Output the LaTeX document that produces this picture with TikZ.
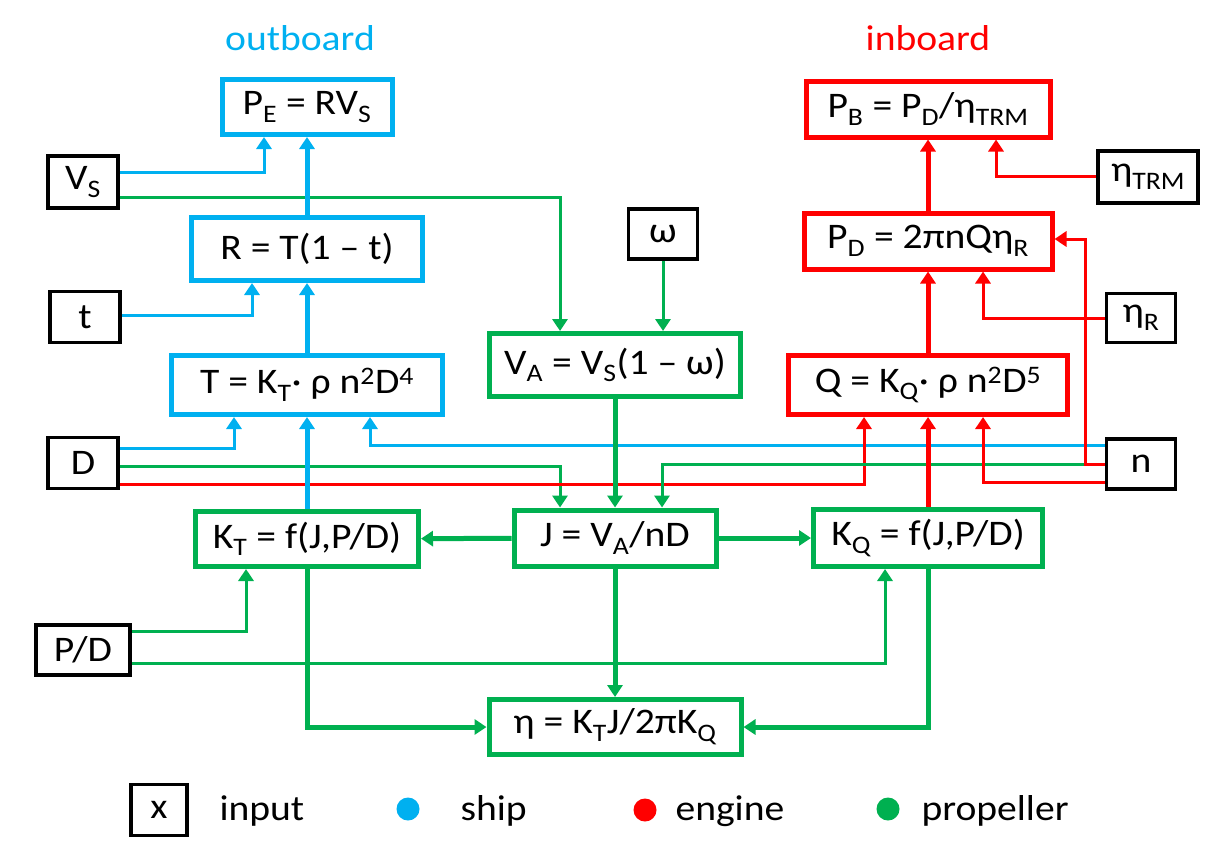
\documentclass[tikz,border=0pt]{standalone}
\usepackage{fontspec}
\setmainfont{Carlito}[FakeStretch=1.1]
\usepackage{tikz}
\usetikzlibrary{arrows.meta}
\usetikzlibrary{calc}

\definecolor{shipblue}{RGB}{0,176,240}
\definecolor{engred}{RGB}{255,0,0}
\definecolor{propgreen}{RGB}{0,176,80}
\newcommand{\sbs}[1]{\textsubscript{#1}}
\newcommand{\sps}[1]{\textsuperscript{#1}}

\begin{document}
\begin{tikzpicture}
	[
	x=1pt, y=-1pt,
  > = {Triangle[length=12pt,width=15pt]},
  every node/.style = {font=\fontsize{36}{40}\selectfont},
  wh/.style 2 args = {minimum width=#1, minimum height=#2},
  inbox/.style = {draw=black, line width=3.5pt, inner sep=0pt},
  shipbox/.style = {draw=shipblue, line width=5pt, inner sep=0pt},
  engbox/.style = {draw=engred, line width=5pt, inner sep=0pt},
  propbox/.style = {draw=propgreen, line width=5pt, inner sep=0pt},
  bthin/.style = {->, shipblue, line width=3pt},
  bthick/.style = {->, shipblue, line width=5pt},
  rthin/.style = {->, engred, line width=3pt},
  rthick/.style = {->, engred, line width=5pt},
  gthin/.style = {->, propgreen, line width=3pt},
  gthick/.style = {->, propgreen, line width=5pt},
  dot/.style = {circle, inner sep=0pt, minimum size=23pt}
  ]
	\useasboundingbox (0,0) rectangle (1223,854);

	\node[text=shipblue] (outb) at (300,38) {outboard};
	\node[text=engred] (inb) at (928,38) {inboard};

	% inputs
	\node[inbox, wh={70pt}{52pt}] (VS) at (83,182) {V\sbs{S}};
	\node[inbox, wh={70pt}{51pt}] (t) at (85,317) {t};
	\node[inbox, wh={70pt}{51pt}] (D) at (83,463) {D};
	\node[inbox, wh={94pt}{50pt}] (PoD) at (83,650) {P/D};
	\node[inbox, wh={69pt}{50pt}] (om) at (663,234) {ω};
	\node[inbox, wh={100pt}{52pt}] (nTRM) at (1148,177) {η\sbs{TRM}};
	\node[inbox, wh={69pt}{49pt}] (nR) at (1141,318) {η\sbs{R}};
	\node[inbox, wh={69pt}{50pt}] (n) at (1141,464) {n};

	% ship
	\node[shipbox, wh={170pt}{55pt}] (PE) at (307,107) {P\sbs{E} = RV\sbs{S}};
	\node[shipbox, wh={231pt}{63pt}] (R) at (307,249) {R = T(1 – t)};
	\node[shipbox, wh={271pt}{59pt}] (T) at (307,385) {T = K\sbs{T}· ρ n\sps{2}D\sps{4}};

	% engine
	\node[engbox, wh={244pt}{56pt}] (PB) at (928,109) {P\sbs{B} = P\sbs{D}/η\sbs{TRM}};
	\node[engbox, wh={248pt}{56pt}] (PD) at (928,241) {P\sbs{D} = 2πnQη\sbs{R}};
	\node[engbox, wh={279pt}{59pt}] (Q) at (928,385) {Q = K\sbs{Q}· ρ n\sps{2}D\sps{5}};

	% propeller
	\node[propbox, wh={251pt}{63pt}] (VA) at (615,365) {V\sbs{A} = V\sbs{S}(1 – ω)};
	\node[propbox, wh={223pt}{55pt}] (KT) at (307,539) {K\sbs{T} = f(J,P/D)};
	\node[propbox, wh={202pt}{56pt}] (J) at (615,538) {J = V\sbs{A}/nD};
	\node[propbox, wh={229pt}{57pt}] (KQ) at (928,538) {K\sbs{Q} = f(J,P/D)};
	\node[propbox, wh={252pt}{55pt}] (eta) at (615,727) {η = K\sbs{T}J/2πK\sbs{Q}};

	\draw[bthin] ([yshift=10pt]VS.east) -| ([xshift=-43pt]PE.south);
	\draw[gthin] ([yshift=-15pt]VS.east) -| ([xshift=-55pt]VA.north);
	\draw[bthin] ([yshift=2pt]t.east) -| ([xshift=-55pt]R.south);
	\draw[gthin] (om.south) -- (om.south |- VA.north);
	\draw[rthin] ([yshift=1pt]nTRM.west) -| ([xshift=68pt]PB.south);
	\draw[rthin] (nR.west) -| ([xshift=55pt]PD.south);
	\draw[bthin] ([yshift=15pt]D.east) -| ([xshift=-73pt]T.south);
	\draw[bthin] ([yshift=19pt]n.west) -| ([xshift=63pt]T.south);
	\draw[gthin] ([yshift=-3pt]D.east) -| ([xshift=-55pt]J.north);
	\draw[rthin] ([yshift=-21pt]D.east) -| ([xshift=-64pt]Q.south);
	\draw[gthin] (n.west) -| ([xshift=47pt]J.north);
	\draw[rthin] (n.west) -- ++(-19,0) |- ([yshift=2pt]PD.east);
	\draw[rthin] ([yshift=-18pt]n.west) -| ([xshift=55pt]Q.south);
	\draw[gthin] ([yshift=19pt]PoD.east) -| ([xshift=-61pt]KT.south);
	\draw[gthin] ([yshift=-13pt]PoD.east) -| ([xshift=-43pt]KQ.south);

	\draw[bthick] (R) -- (PE);
	\draw[bthick] (T) -- (R);
	\draw[bthick] (KT) -- (T);
	\draw[rthick] (PD) -- (PB);
	\draw[rthick] (Q) -- (PD);
	\draw[rthick] (KQ) -- (Q);
	\draw[gthick] (VA) -- (J);
	\draw[gthick] (J) -- (KT);
	\draw[gthick] (J) -- (KQ);
	\draw[gthick] (J) -- (eta);
	\draw[gthick] (KT.south) |- (eta.west);
	\draw[gthick] (KQ.south) |- (eta.east);

	% legend
	\node[inbox, wh={56pt}{51pt}] (legx) at (159,810) {x};
	\node[anchor=base west] (legin) at (216,820) {input};
	\node[dot, fill=shipblue] (dship) at (408,809) {};
	\node[anchor=base west] (legship) at (457,820) {ship};
	\node[dot, fill=engred] (deng) at (645,810) {};
	\node[anchor=base west] (legeng) at (672,820) {engine};
	\node[dot, fill=propgreen] (dprop) at (888,809) {};
	\node[anchor=base west] (legprop) at (918,820) {propeller};

\end{tikzpicture}
\end{document}
